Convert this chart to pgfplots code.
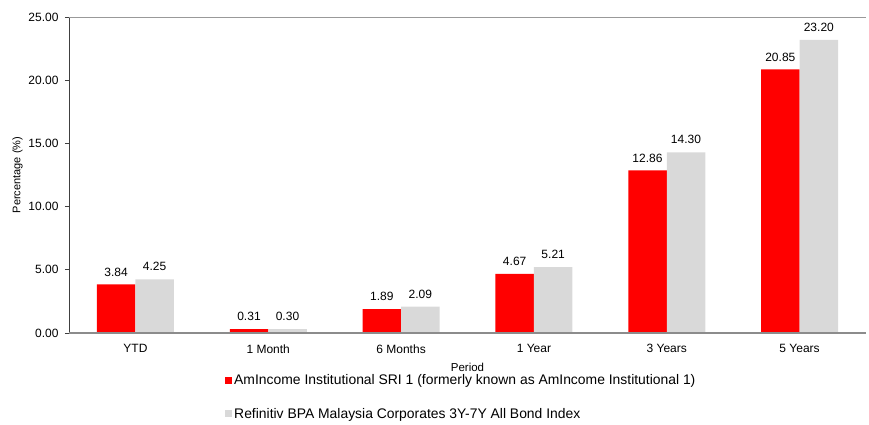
\documentclass[border=0pt]{standalone}
\usepackage{fontspec}
\setmainfont{Liberation Sans}
\usepackage{pgfplots}
\pgfplotsset{compat=1.18}
\definecolor{fundred}{HTML}{FF0000}
\definecolor{idxgray}{HTML}{D9D9D9}
\begin{document}
\begin{tikzpicture}
\begin{axis}[
  at={(0pt,0pt)}, anchor=south west,
  scale only axis, width=797pt, height=316pt,
  xmin=-0.5, xmax=5.5, ymin=0, ymax=25,
  ybar=0pt, bar width=38.5pt,
  xtick={0,...,5},
  xticklabels={YTD,1 Month,6 Months,1 Year,3 Years,5 Years},
  xtick pos=bottom, ytick pos=left,
  x tick style={draw=none},
  ytick={0,5,...,25},
  y tick style={draw=black!75, line width=0.8pt},
  major tick length=4pt, tick align=outside,
  axis line style={draw=none},
  yticklabel style={/pgf/number format/fixed, /pgf/number format/fixed zerofill, /pgf/number format/precision=2, /pgf/number format/assume math mode=true, /tikz/xshift=-3pt},
  ticklabel style={font=\fontsize{12}{14}\selectfont},
  xticklabel style={yshift=-4pt},
  xlabel={Period}, ylabel={Percentage (\%)},
  xlabel style={font=\fontsize{11.5}{13}\selectfont, yshift=-3pt},
  ylabel style={font=\fontsize{11}{13}\selectfont, yshift=-1pt},
  nodes near coords={\pgfmathprintnumber[fixed,fixed zerofill,precision=2,assume math mode=true]{\pgfplotspointmeta}},
  nodes near coords style={font=\fontsize{12}{14}\selectfont, black, inner sep=0pt, yshift=8pt},
  legend style={draw=none, fill=none, at={(0.192,-0.118)}, anchor=north west,
    font=\fontsize{13.9}{16}\selectfont, row sep=18pt},
  legend cell align=left,
  legend image code/.code={\fill[#1] (0pt,-3.5pt) rectangle (7pt,3.5pt);},
]
\addplot[fill=fundred, draw=none] coordinates {(0,3.84) (1,0.31) (2,1.89) (3,4.67) (4,12.86) (5,20.85)};
\addplot[fill=idxgray, draw=none] coordinates {(0,4.25) (1,0.30) (2,2.09) (3,5.21) (4,14.30) (5,23.20)};
\legend{AmIncome Institutional SRI 1 (formerly known as AmIncome Institutional 1), Refinitiv BPA Malaysia Corporates 3Y-7Y All Bond Index}
\draw[black!75, line width=1.2pt] (rel axis cs:0,0) -- (rel axis cs:0,1);
\draw[black!45, line width=1.6pt] (rel axis cs:0,0) -- (rel axis cs:1,0);
\draw[black!40, line width=1.2pt] (rel axis cs:0,1) -- (rel axis cs:1,1);
\end{axis}
\pgfresetboundingbox
\path[use as bounding box] (-69pt,-91pt) rectangle (800pt,333pt);
\end{tikzpicture}
\end{document}
